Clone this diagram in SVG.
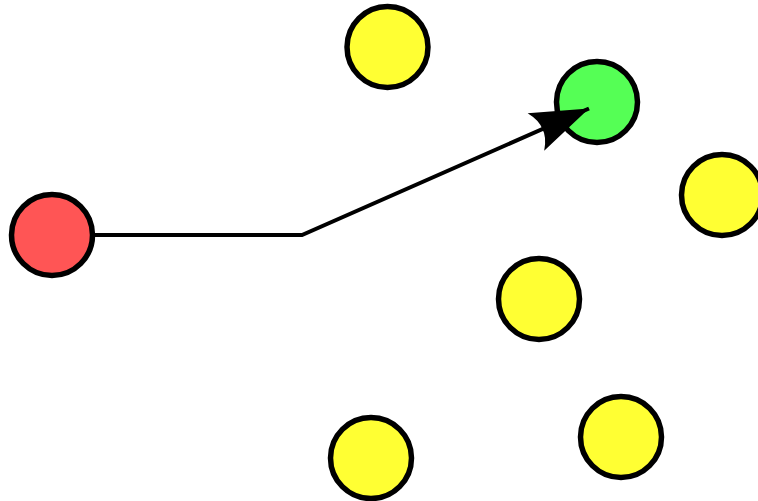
<svg xmlns="http://www.w3.org/2000/svg" width="758" height="501" viewBox="0 0 758 501">
<style>
.n{stroke:#000;stroke-width:5.5}
.y{fill:#ffff33}
.edge{fill:none;stroke:#000;stroke-width:4}
</style>
<defs>
<marker id="ah" markerUnits="userSpaceOnUse" viewBox="-62 -25 67 50" refX="0" refY="0" markerWidth="67" markerHeight="50" orient="auto">
<path d="M0,0 L-58,-20.5 Q-50,-9 -51,0 Q-50,9 -58,20.5 Z" fill="#000"/>
</marker>
</defs>
<rect width="758" height="501" fill="#fff"/>
<g id="red"><circle class="n" cx="52" cy="235" r="40.5" fill="#ff5555"/></g>
<g id="green"><circle class="n" cx="597" cy="102" r="40.5" fill="#55ff55"/></g>
<g id="y1"><circle class="n y" cx="387.5" cy="47" r="40.5"/></g>
<g id="y2"><circle class="n y" cx="722" cy="195" r="40.5"/></g>
<g id="y3"><circle class="n y" cx="539" cy="299" r="40.5"/></g>
<g id="y4"><circle class="n y" cx="621" cy="437" r="40.5"/></g>
<g id="y5"><circle class="n y" cx="371" cy="458" r="40.5"/></g>
<g id="edges">
<path class="edge" d="M95,235 L302,235 L589,108.5" marker-end="url(#ah)"/>
</g>
</svg>
